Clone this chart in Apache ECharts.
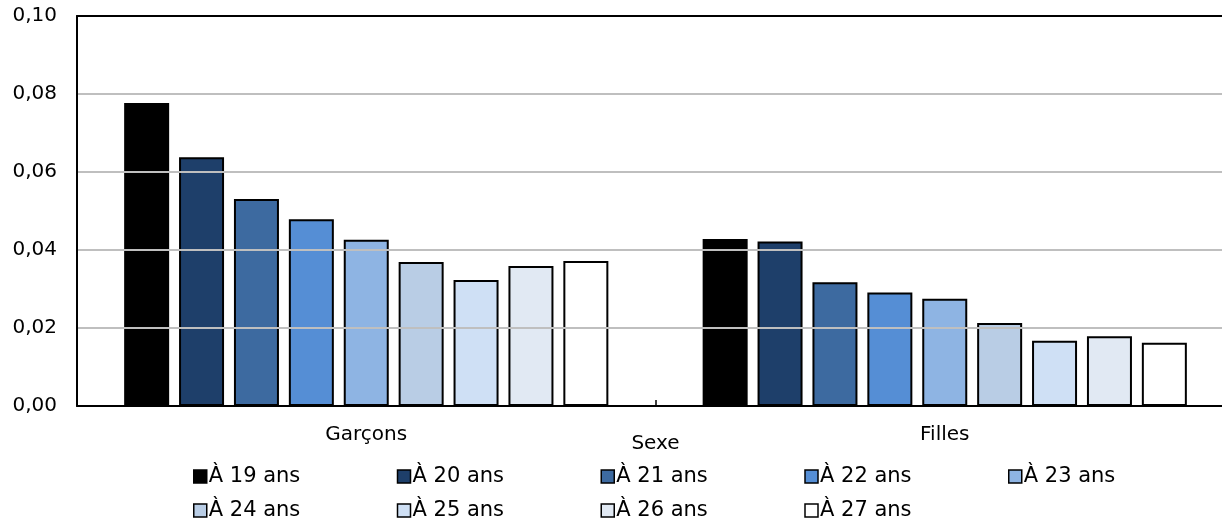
<!DOCTYPE html>
<html>
<head>
<meta charset="utf-8">
<script src="https://cdn.jsdelivr.net/npm/echarts@6/dist/echarts.min.js"></script>
<style>
  html, body { margin: 0; padding: 0; background: #fff; }
  #chart { width: 1222px; height: 519px; }
</style>
</head>
<body>
<div id="chart"></div>
<script>
// Categories on the x axis
const categories = ['Garçons', 'Filles'];

// Series (age) names
const seriesNames = ['À 19 ans', 'À 20 ans', 'À 21 ans', 'À 22 ans', 'À 23 ans',
                     'À 24 ans', 'À 25 ans', 'À 26 ans', 'À 27 ans'];

// Values per age: [Garçons, Filles]
const age19 = [0.0777, 0.0428];
const age20 = [0.0638, 0.0422];
const age21 = [0.0531, 0.0317];
const age22 = [0.0479, 0.0291];
const age23 = [0.0426, 0.0275];
const age24 = [0.0369, 0.0213];
const age25 = [0.0323, 0.0167];
const age26 = [0.0359, 0.0179];
const age27 = [0.0372, 0.0162];

// Y axis ticks
const yMin = 0, yMax = 0.10, yStep = 0.02;

const seriesValues = [age19, age20, age21, age22, age23, age24, age25, age26, age27];
const palette = ['#000000', '#1e3f6a', '#3d6aa0', '#558ed5', '#8eb4e3',
                 '#b9cde5', '#cfe0f5', '#e1e9f3', '#ffffff'];

const FONT = 'DejaVu Sans';
const chart = echarts.init(document.getElementById('chart'), null, { renderer: 'canvas' });

chart.setOption({
  animation: false,
  color: palette,
  textStyle: { fontFamily: FONT, color: '#000' },
  // plot area runs slightly past the right edge of the canvas
  grid: {
    left: 77, top: 16, width: 1157, height: 390,
    containLabel: false, outerBoundsMode: 'none'
  },
  legend: {
    left: 188, top: 461, width: 1034,
    padding: 5,
    itemWidth: 13, itemHeight: 13, itemGap: 13,
    icon: 'rect',
    itemStyle: { borderColor: '#000', borderWidth: 1.5 },
    textStyle: {
      fontFamily: FONT, fontSize: 21, color: '#000',
      width: 175, lineHeight: 17, padding: [0, 0, 0, -3]
    },
    data: seriesNames
  },
  xAxis: [{
    type: 'category',
    data: categories,
    name: 'Sexe',
    nameLocation: 'middle',
    nameGap: 28,
    nameMoveOverlap: false,
    nameTextStyle: { fontFamily: FONT, fontSize: 20, color: '#000' },
    axisLine: { show: true, lineStyle: { color: '#000', width: 2 } },
    axisTick: { show: true, inside: true, length: 6, lineStyle: { color: '#000', width: 1.5 } },
    axisLabel: { fontFamily: FONT, fontSize: 20, color: '#000', margin: 19 },
    splitLine: { show: false },
    z: 3
  }, {
    // top border line of the plot area
    type: 'category',
    data: categories,
    position: 'top',
    axisLine: { show: true, lineStyle: { color: '#000', width: 2 } },
    axisTick: { show: false },
    axisLabel: { show: false },
    splitLine: { show: false },
    z: 3
  }],
  yAxis: {
    type: 'value',
    min: yMin, max: yMax, interval: yStep,
    axisLine: { show: true, lineStyle: { color: '#000', width: 2 } },
    axisTick: { show: false },
    axisLabel: {
      fontFamily: FONT, fontSize: 20, color: '#000', margin: 20,
      formatter: v => v.toFixed(2).replace('.', ',')
    },
    splitLine: { show: true, lineStyle: { color: '#bfbfbf', width: 2 } },
    z: 3
  },
  series: seriesNames.map((name, i) => ({
    name: name,
    type: 'bar',
    data: seriesValues[i],
    barWidth: 45,
    barGap: '22%',
    itemStyle: { color: palette[i], borderColor: '#000', borderWidth: 2 }
  }))
});
</script>
</body>
</html>
